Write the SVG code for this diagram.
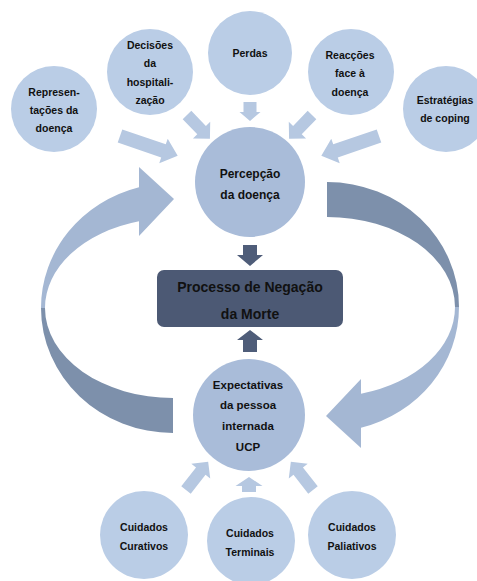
<svg xmlns="http://www.w3.org/2000/svg" xmlns:xlink="http://www.w3.org/1999/xlink" width="477" height="581" viewBox="0 0 477 581">
<style>
.c{fill:#bacde6}
.cb{fill:#a9bcd9}
.sa{fill:#b6c8e1}
.t{font-family:"Liberation Sans",Arial,sans-serif;font-weight:bold;font-size:10.5px;fill:#111;text-anchor:middle}
.tb{font-size:12px}
.tx{font-size:14px}
.light{fill:#a4b7d3}
.dark{fill:#7d90ab}
.da{fill:#4f5d79}
</style>
<defs>
<g id="curve">
<path class="light" d="M41,308 A132,125 0 0 1 139,187.2 L139,167 L174,199 L139,236 L139,221.2 A128,90 0 0 0 45,308 Z"/>
<path class="dark" d="M41,308 A132,125 0 0 0 173,433 L173,398 A128,90 0 0 1 45,308 Z"/>
</g>
</defs>
<rect width="477" height="581" fill="#fff"/>
<g id="connectors">
<use xlink:href="#curve"/>
<use xlink:href="#curve" transform="rotate(180 250 307.5)"/>
<polygon class="sa" transform="translate(120,136) rotate(19)" points="0,-7 46,-7 46,-13 61,0 46,13 46,7 0,7"/>
<polygon class="sa" transform="translate(187,115) rotate(46)" points="0,-6 21,-6 21,-12 33,0 21,12 21,6 0,6"/>
<polygon class="sa" transform="translate(250,102) rotate(90)" points="0,-6.5 10,-6.5 10,-10.5 19,0 10,10.5 10,6.5 0,6.5"/>
<polygon class="sa" transform="translate(312,115) rotate(134)" points="0,-6 21,-6 21,-12 33,0 21,12 21,6 0,6"/>
<polygon class="sa" transform="translate(379,136) rotate(161)" points="0,-7 46,-7 46,-13 61,0 46,13 46,7 0,7"/>
<polygon class="sa" transform="translate(186,490) rotate(-52)" points="0,-6 24,-6 24,-12 36,0 24,12 24,6 0,6"/>
<polygon class="sa" transform="translate(249,492) rotate(-90)" points="0,-7 6,-7 6,-13.5 15,0 6,13.5 6,7 0,7"/>
<polygon class="sa" transform="translate(313,490) rotate(-128)" points="0,-6 24,-6 24,-12 36,0 24,12 24,6 0,6"/>
<polygon class="da" points="243,245 257,245 257,255 263,255 250,266 237,255 243,255"/>
<polygon class="da" points="243,352 257,352 257,340 263,340 250,330 237,340 243,340"/>
</g>
<g id="n-representacoes">
<circle class="c" cx="54" cy="109" r="43"/>
<text class="t" x="54" y="96">Represen-</text>
<text class="t" x="54" y="114">tações da</text>
<text class="t" x="54" y="132">doença</text>
</g>
<g id="n-decisoes">
<circle class="c" cx="150" cy="72" r="43"/>
<text class="t" x="150" y="49">Decisões</text>
<text class="t" x="150" y="67">da</text>
<text class="t" x="150" y="86">hospitali-</text>
<text class="t" x="150" y="104">zação</text>
</g>
<g id="n-perdas">
<circle class="c" cx="250" cy="53" r="42"/>
<text class="t" x="250" y="57">Perdas</text>
</g>
<g id="n-reaccoes">
<circle class="c" cx="351" cy="72" r="43"/>
<text class="t" x="350" y="59">Reacções</text>
<text class="t" x="350" y="77">face à</text>
<text class="t" x="350" y="96">doença</text>
</g>
<g id="n-estrategias">
<circle class="c" cx="446" cy="109" r="43"/>
<text class="t" x="445" y="104">Estratégias</text>
<text class="t" x="445" y="122">de coping</text>
</g>
<g id="n-percepcao">
<circle class="cb" cx="250" cy="182" r="55"/>
<text class="t tb" x="250" y="177.5">Percepção</text>
<text class="t tb" x="250" y="198.5">da doença</text>
</g>
<g id="n-processo">
<rect x="157" y="270" width="186" height="57" rx="7" fill="#4c5974"/>
<text class="t tx" x="250" y="292">Processo de Negação</text>
<text class="t tx" x="250" y="319">da Morte</text>
</g>
<g id="n-expectativas">
<circle class="cb" cx="249" cy="415" r="56"/>
<text class="t" style="font-size:11.5px" x="248" y="389">Expectativas</text>
<text class="t" style="font-size:11.5px" x="248" y="409">da pessoa</text>
<text class="t" style="font-size:11.5px" x="248" y="430">internada</text>
<text class="t" style="font-size:11.5px" x="248" y="451">UCP</text>
</g>
<g id="n-curativos">
<circle class="c" cx="144" cy="535" r="44"/>
<text class="t" x="144" y="531">Cuidados</text>
<text class="t" x="144" y="550">Curativos</text>
</g>
<g id="n-terminais">
<circle class="c" cx="251" cy="541" r="44"/>
<text class="t" x="250" y="537">Cuidados</text>
<text class="t" x="250" y="556">Terminais</text>
</g>
<g id="n-paliativos">
<circle class="c" cx="352" cy="535" r="44"/>
<text class="t" x="352" y="531">Cuidados</text>
<text class="t" x="352" y="550">Paliativos</text>
</g>
</svg>
